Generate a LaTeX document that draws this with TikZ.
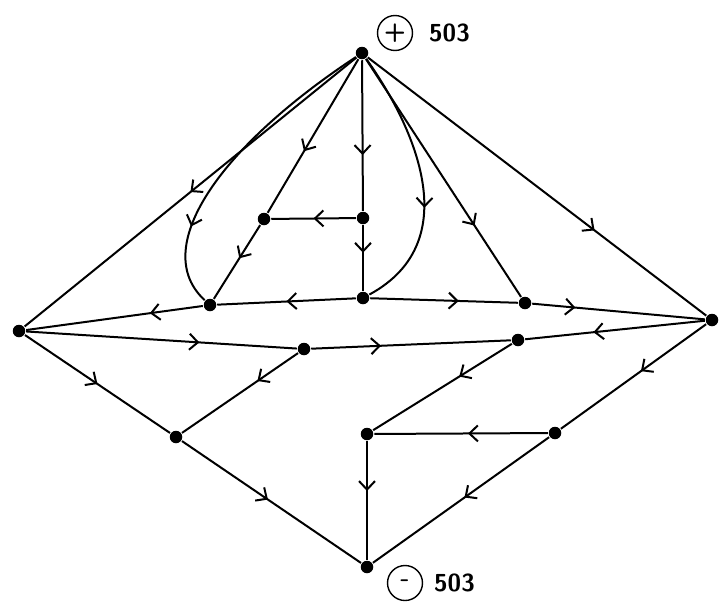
\documentclass[tikz,border=0pt]{standalone}
\usepackage{tikz}
\usetikzlibrary{decorations.markings,arrows.meta,positioning}
\tikzset{
  dot/.style={
    shape = circle,
    fill,
    inner sep = 0pt,
    minimum size = 0.25cm
  },
  flow/.style={
    postaction={decorate},
    decoration={markings,
      mark=at position #1 with {\arrow{Straight Barb[length=1.7mm,width=3.2mm]}}}
  },
  flow/.default=0.5,
  pole/.style={
    shape = circle,
    draw,
    thick,
    inner sep = 0pt,
    minimum size = 0.7cm,
    font = \sffamily\bfseries\Large
  },
  num/.style={
    inner sep = 0pt,
    font = \sffamily\bfseries\fontsize{14}{14}\selectfont
  }
}

\begin{document}
\begin{tikzpicture}[x=0.02cm,y=-0.02cm,line width=0.04cm]
    \useasboundingbox (0,0) rectangle (719,602);
    % outer corners
    \node[dot] (top) at (362,53) {};
    \node[dot] (bot) at (367,567) {};
    \node[dot] (lft) at (19,331) {};
    \node[dot] (rgt) at (712,320) {};
    % inner junctions
    \node[dot] (ul) at (264,219) {};
    \node[dot] (uc) at (363,218) {};
    \node[dot] (ml) at (210,305) {};
    \node[dot] (mc) at (363,298) {};
    \node[dot] (mr) at (525,303) {};
    \node[dot] (ll) at (304,349) {};
    \node[dot] (lr) at (518,340) {};
    \node[dot] (bl) at (176,437) {};
    \node[dot] (bc) at (367,434) {};
    \node[dot] (br) at (555,433) {};

    % branches leaving the + pole
    \draw[flow] (top) -- (lft);
    \draw[flow=0.75] (top) .. controls (215,150) and (150,250) .. (ml);
    \draw[flow=0.6] (top) -- (ul);
    \draw[flow=0.63] (top) -- (uc);
    \draw[flow=0.6] (top) .. controls (410,120) and (470,240) .. (mc);
    \draw[flow=0.7] (top) -- (mr);
    \draw[flow=0.67] (top) -- (rgt);

    \draw[flow] (uc) -- (ul);
    \draw[flow=0.42] (uc) -- (mc);
    \draw[flow=0.45] (ul) -- (ml);

    % upper arc
    \draw[flow] (mc) -- (ml);
    \draw[flow=0.3] (ml) -- (lft);
    \draw[flow=0.6] (mc) -- (mr);
    \draw[flow=0.25] (mr) -- (rgt);

    % lower arc
    \draw[flow=0.64] (lft) -- (ll);
    \draw[flow=0.35] (ll) -- (lr);
    \draw[flow=0.62] (rgt) -- (lr);

    % branches to the - pole
    \draw[flow=0.35] (ll) -- (bl);
    \draw[flow=0.38] (lr) -- (bc);
    \draw[flow=0.46] (br) -- (bc);
    \draw[flow=0.45] (rgt) -- (br);
    \draw[flow] (lft) -- (bl);
    \draw[flow=0.48] (bl) -- (bot);
    \draw[flow=0.42] (bc) -- (bot);
    \draw[flow=0.48] (br) -- (bot);

    % pole labels
    \node[pole] (plus) at (395,33) {+};
    \node[num, right=0.3cm of plus] (plusval) {503};
    \node[pole] (minus) at (405,583) {-};
    \node[num, right=0.2cm of minus] (minusval) {503};
\end{tikzpicture}
\end{document}
